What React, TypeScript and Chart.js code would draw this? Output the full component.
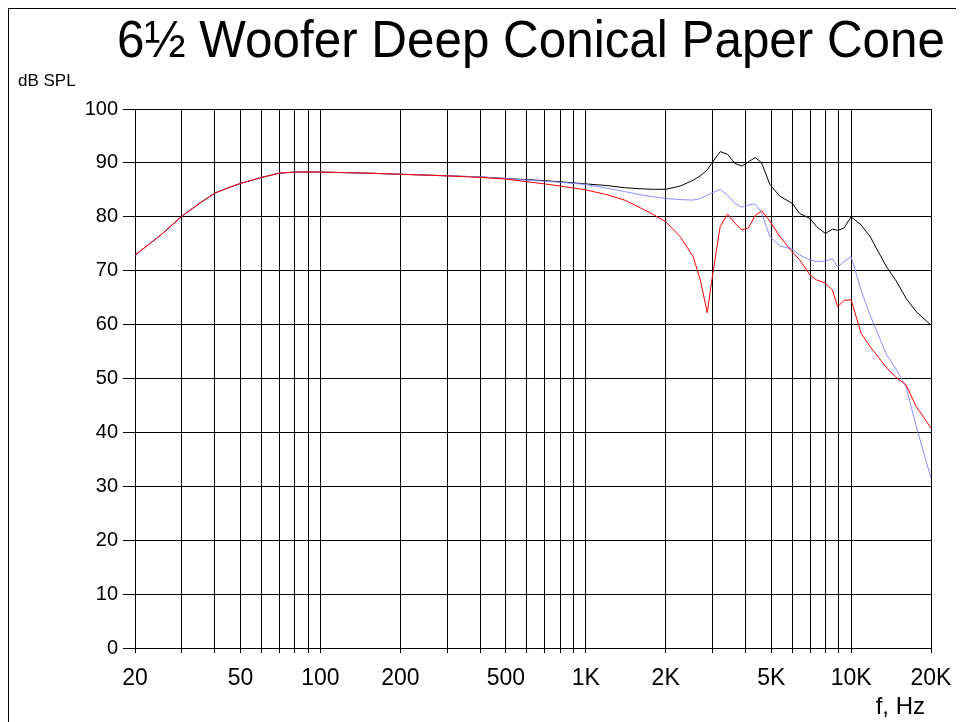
import React, { useEffect, useRef } from 'react';
import { Chart, registerables } from 'chart.js';

Chart.register(...registerables);

const titleText = '6½ Woofer Deep Conical Paper Cone';
const yAxisTitle = 'dB SPL';
const xAxisTitle = 'f, Hz';

const freqs = [
  20, 25, 30, 35, 40, 45, 50, 60, 70, 80, 100, 150, 200, 300, 400, 500, 600, 700, 800, 1000,
  1200, 1400, 1600, 1800, 2000, 2270, 2540, 2700, 2870, 2980, 3210, 3420, 3650, 3870, 4100,
  4350, 4600, 4940, 5390, 6000, 6400, 7000, 7400, 8000, 8500, 8900, 9400, 10000, 10900, 11800,
  13600, 14700, 16100, 17600, 20000,
];

const blackSpl = [
  72.9, 76.6, 80.1, 82.5, 84.4, 85.4, 86.2, 87.3, 88.1, 88.3, 88.3, 88.1, 87.9, 87.6, 87.4, 87.1, 86.9, 86.7, 86.5, 86.1,
  85.8, 85.4, 85.2, 85.1, 85.1, 85.7, 86.8, 87.6, 88.7, 89.9, 92.1, 91.6, 89.9, 89.4, 90.2,
  91.0, 90.0, 86.0, 83.8, 82.5, 80.6, 79.7, 78.2, 76.9, 77.7, 77.5, 77.9, 80.0, 78.5, 76.3,
  70.7, 68.3, 64.9, 62.4, 59.9,
];

const blueSpl = [
  72.9, 76.6, 80.1, 82.5, 84.4, 85.4, 86.2, 87.3, 88.1, 88.3, 88.3, 88.1, 87.9, 87.6, 87.4, 87.1, 86.8, 86.6, 86.4, 86.0,
  85.3, 84.7, 84.1, 83.7, 83.4, 83.2, 83.1, 83.4, 84.0, 84.4, 85.1, 84.0, 82.5, 81.8, 82.2,
  82.4, 80.7, 76.3, 74.6, 74.0, 72.9, 72.0, 71.7, 71.8, 72.2, 70.7, 71.7, 72.6, 66.4, 61.7,
  54.4, 51.9, 48.5, 41.1, 31.5,
];

const redSpl = [
  72.9, 76.6, 80.1, 82.5, 84.4, 85.4, 86.2, 87.3, 88.1, 88.3, 88.3, 88.1, 87.9, 87.6, 87.3, 87.0, 86.5, 86.1, 85.7, 85.0,
  84.1, 83.1, 81.7, 80.4, 79.1, 76.3, 72.6, 68.3, 62.2, 68.0, 78.2, 80.5, 78.8, 77.6, 77.9,
  80.3, 81.1, 79.2, 76.3, 73.5, 72.0, 69.2, 68.3, 67.7, 66.4, 63.3, 64.5, 64.6, 58.4, 55.9,
  52.0, 50.3, 48.8, 44.8, 40.8,
];

const gridFreqs = [
  20, 30, 40, 50, 60, 70, 80, 90, 100, 200, 300, 400, 500, 600, 700, 800, 900, 1000,
  2000, 3000, 4000, 5000, 6000, 7000, 8000, 9000, 10000, 20000,
];
const labelFreqs = [20, 50, 100, 200, 500, 1000, 2000, 5000, 10000, 20000];
const labelTexts = ['20', '50', '100', '200', '500', '1K', '2K', '5K', '10K', '20K'];

const FONT = '"Liberation Sans", Arial, sans-serif';

const textPlugin = {
  id: 'extraTexts',
  afterDraw(chart: any) {
    const ctx = chart.ctx;
    ctx.save();
    ctx.fillStyle = '#000';
    ctx.textBaseline = 'alphabetic';
    ctx.textAlign = 'right';
    ctx.font = `52px ${FONT}`;
    const w = ctx.measureText(titleText).width;
    const sx = 828 / w;
    ctx.save();
    ctx.translate(936, 48);
    ctx.scale(sx, 1);
    ctx.fillText(titleText, 0, 0);
    ctx.restore();
    ctx.textAlign = 'left';
    ctx.font = `17px ${FONT}`;
    ctx.fillText(yAxisTitle, 9, 77);
    ctx.textAlign = 'right';
    ctx.font = `24px ${FONT}`;
    ctx.fillText(xAxisTitle, 916, 705);
    ctx.restore();
  },
};

export default function App() {
  const ref = useRef<HTMLCanvasElement>(null);

  useEffect(() => {
    document.documentElement.style.overflow = 'hidden';
    document.body.style.overflow = 'hidden';
    const mk = (vals: number[]) => freqs.map((f, i) => ({ x: f, y: vals[i] }));
    const chart = new Chart(ref.current as HTMLCanvasElement, {
      type: 'line',
      data: {
        datasets: [
          { data: mk(redSpl), borderColor: '#ff0000', borderWidth: 1, pointRadius: 0, tension: 0 },
          { data: mk(blueSpl), borderColor: '#8c8cff', borderWidth: 1, pointRadius: 0, tension: 0 },
          { data: mk(blackSpl), borderColor: '#000000', borderWidth: 1, pointRadius: 0, tension: 0 },
        ],
      },
      options: {
        animation: false,
        responsive: false,
        maintainAspectRatio: false,
        layout: { padding: { left: 0, right: 33, top: 100, bottom: 0 } },
        plugins: { legend: { display: false }, tooltip: { enabled: false }, title: { display: false } },
        scales: {
          x: {
            type: 'logarithmic',
            min: 20,
            max: 20000,
            afterBuildTicks: (s: any) => {
              s.ticks = gridFreqs.map((v) => ({ value: v }));
            },
            afterFit: (s: any) => {
              s.height = 74;
            },
            grid: { color: '#000', lineWidth: 1, tickLength: 5, drawTicks: true },
            border: { color: '#000' },
            ticks: {
              autoSkip: false,
              maxRotation: 0,
              minRotation: 0,
              padding: 12,
              color: '#000',
              font: { family: FONT, size: 23 },
              callback: (v: any, i: number, ticks: any[]) => {
                const val = ticks[i] ? ticks[i].value : v;
                const k = labelFreqs.indexOf(val);
                return k >= 0 ? labelTexts[k] : '';
              },
            },
          },
          y: {
            min: 0,
            max: 100,
            afterFit: (s: any) => {
              s.width = 126;
            },
            grid: { color: '#000', lineWidth: 1, tickLength: 12, drawTicks: true },
            border: { color: '#000' },
            ticks: {
              stepSize: 10,
              padding: 5,
              color: '#000',
              font: { family: FONT, size: 20 },
            },
          },
        },
      },
      plugins: [textPlugin],
    } as any);
    return () => chart.destroy();
  }, []);

  return (
    <div
      style={{
        borderLeft: '1px solid #000',
        borderTop: '1px solid #000',
        width: 955,
        height: 713,
        background: '#fff',
      }}
    >
      <canvas ref={ref} width={955} height={713} style={{ display: 'block', width: 955, height: 713 }} />
    </div>
  );
}
